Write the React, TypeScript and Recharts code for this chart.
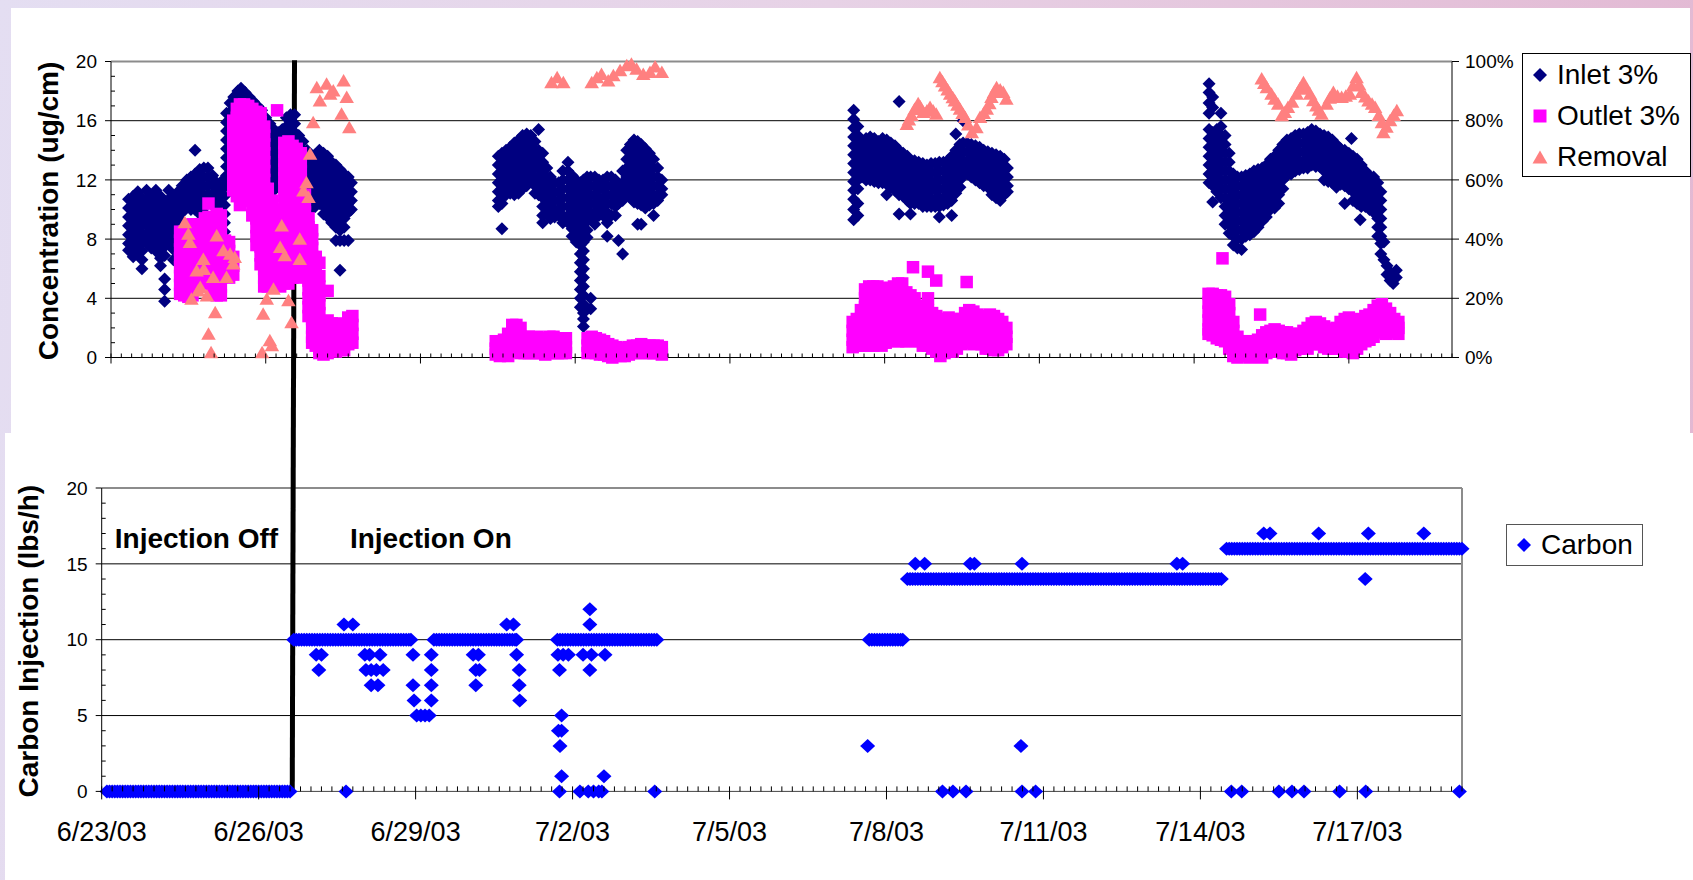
import React from 'react';
import { ScatterChart, Scatter, XAxis, YAxis, CartesianGrid, ReferenceLine, ReferenceDot, Legend } from 'recharts';

const FONT = '"Liberation Sans", Arial, Helvetica, sans-serif';
const INLET = '#000080';
const OUTLET = '#FF00FF';
const REMOVAL = '#FF8080';
const CARBON = '#0000FF';

// x = days after 6/23/03 00:00
const dateLabels = ['6/23/03', '6/26/03', '6/29/03', '7/2/03', '7/5/03', '7/8/03', '7/11/03', '7/14/03', '7/17/03'];
const labelDays = [0, 3, 6, 9, 12, 15, 18, 21, 24];
const concLabels = [0, 4, 8, 12, 16, 20];
const pctLabels = [0, 20, 40, 60, 80, 100];
const carbonLabels = [0, 5, 10, 15, 20];
const concGrid = [4, 8, 12, 16];
const carbonGrid = [5, 10, 15];
const minorDays = Array.from({ length: 131 }, (_, i) => i / 5);
const unitTicks = Array.from({ length: 21 }, (_, i) => i);

// Inlet 3% (ug/cm): [day, readings...]
const inlet1 = [
  [0.34, 10.7, 10.1, 9.5, 8.9, 8.3, 7.7, 7.25],
  [0.43, 10.9, 10.3, 9.7, 9.1, 8.5, 7.9, 7.3, 6.8],
  [0.52, 11.2, 10.6, 10.0, 9.4, 8.8, 8.2, 7.6, 7.0],
  [0.6, 10.8, 10.2, 9.6, 9.0, 8.4, 7.8, 7.2, 6.6, 6.0],
  [0.69, 11.3, 10.7, 10.1, 9.5, 8.9, 8.3, 7.7],
  [0.78, 10.9, 10.3, 9.7, 9.1, 8.5, 7.9, 7.4],
  [0.87, 11.3, 10.7, 10.1, 9.5, 8.9, 8.3, 7.7, 7.2],
  [0.96, 10.9, 10.3, 9.7, 9.1, 8.5, 7.9, 7.3, 6.7, 6.2],
  [1.04, 10.5, 9.9, 9.3, 8.7, 8.1, 7.5, 6.9, 5.3, 4.6, 3.8],
  [1.12, 11.3, 10.7, 10.1, 9.5, 8.9, 8.3, 7.7],
  [1.21, 10.9, 10.3, 9.7, 9.1, 8.5, 7.9, 7.3, 6.6],
  [1.3, 11.2, 10.6, 10.0, 9.4, 8.8],
  [1.38, 11.6, 11.0, 10.4, 9.8, 9.2],
  [1.47, 12.0, 11.4, 10.8, 10.2],
  [1.55, 12.2, 11.6, 11.0, 10.4, 10.0],
  [1.63, 14.0, 12.4, 11.8, 11.2, 10.6, 10.0],
  [1.72, 12.7, 12.1, 11.5, 10.9, 10.3, 9.7],
  [1.8, 12.8, 12.2, 11.6, 11.0, 10.4, 9.8],
  [1.88, 12.8, 12.2, 11.6, 11.0, 10.4],
  [1.97, 12.3, 11.7, 11.1, 10.5],
  [2.05, 11.8, 11.2, 10.6, 10.0, 9.4],
  [2.12, 11.3, 10.7, 10.1, 9.5, 8.9, 8.3],
  [2.2, 12.1, 11.5, 10.9, 10.3, 9.7, 9.1, 8.5, 8.1],
  [2.24, 16.5, 15.9, 15.3, 14.7, 14.1, 13.5, 12.9, 12.3, 11.7],
  [2.31, 17.2, 16.6, 16.0, 15.4, 14.8, 14.2, 13.6, 13.0, 12.4],
  [2.38, 17.6, 17.0, 16.4],
  [2.46, 18.0, 17.4],
  [2.52, 18.2, 17.6],
  [2.6, 17.9, 17.3],
  [2.68, 17.6, 17.0],
  [2.76, 17.3, 16.7],
  [2.84, 17.0, 16.4],
  [2.92, 16.7, 16.1, 15.5],
  [3.0, 16.2, 15.6, 15.0, 14.4, 13.8, 13.2, 12.6, 12.0, 11.4],
  [3.08, 15.8, 15.2, 14.6, 14.0, 13.4, 12.8, 12.2, 11.6],
  [3.16, 15.4, 14.8, 14.2, 13.6, 13.0, 12.4, 11.8, 11.3],
  [3.24, 15.2, 14.6, 14.0, 13.4, 12.8, 12.2, 11.6],
  [3.32, 15.4, 14.8, 14.2, 13.6],
  [3.4, 16.2, 15.6, 15.0, 14.4],
  [3.48, 16.4, 15.8, 15.2],
  [3.56, 16.4, 15.8, 15.2, 14.6],
  [3.64, 15.0, 14.4, 13.8, 13.2, 12.6, 12.0, 11.4, 10.8, 10.2],
  [3.72, 14.6, 14.0, 13.4, 12.8, 12.2, 11.6, 11.0, 10.4, 10.0],
  [3.8, 14.0, 13.4, 12.8, 12.2, 11.6, 11.0, 10.4, 10.0],
  [3.88, 13.6, 13.0, 12.4, 11.8, 11.2, 10.6, 10.0],
  [3.96, 13.7, 13.1, 12.5, 11.9, 11.3, 10.7, 10.2],
  [4.04, 14.0, 13.4, 12.8, 12.2, 11.6, 11.0, 10.4],
  [4.12, 13.8, 13.2, 12.6, 12.0, 11.4, 10.8, 10.2, 9.7],
  [4.2, 13.6, 13.0, 12.4, 11.8, 11.2, 10.6, 10.0, 9.5],
  [4.28, 13.2, 12.6, 12.0, 11.4, 10.8, 10.2, 9.6, 9.1],
  [4.36, 13.0, 12.4, 11.8, 11.2, 10.6, 10.0, 9.4, 8.8, 7.9],
  [4.44, 12.7, 12.1, 11.5, 10.9, 10.3, 9.7, 9.1, 8.6, 7.9, 5.9],
  [4.52, 12.4, 11.8, 11.2, 10.6, 10.0, 9.4, 8.8, 7.9],
  [4.6, 12.2, 11.6, 11.0, 10.4, 9.8, 7.9],
  [4.66, 11.8, 11.2, 10.6, 10.0],
];
const inlet2 = [
  [7.51, 13.6, 13.0, 12.4, 11.8, 11.2, 10.6, 10.2],
  [7.58, 13.8, 13.2, 12.6, 12.0, 11.4, 10.8, 10.4, 8.7],
  [7.66, 14.0, 13.4, 12.8, 12.2, 11.6, 11.0],
  [7.74, 14.2, 13.6, 13.0, 12.4, 11.8, 11.1],
  [7.82, 14.5, 13.9, 13.3, 12.7, 12.1, 11.5, 11.0],
  [7.9, 14.7, 14.1, 13.5, 12.9, 12.3, 11.7, 11.1],
  [7.98, 15.0, 14.4, 13.8, 13.2, 12.6, 12.0, 11.4],
  [8.06, 15.1, 14.5, 13.9, 13.3, 12.7, 12.1, 11.6],
  [8.14, 15.0, 14.4, 13.8, 13.2, 12.6, 12.0],
  [8.22, 14.6, 14.0, 13.4, 12.8, 12.2, 11.6, 11.1],
  [8.29, 15.4, 14.0, 13.4, 12.8, 12.2, 11.6, 11.0],
  [8.37, 13.8, 13.2, 12.6, 12.0, 11.4, 10.8, 10.2, 9.6, 9.1],
  [8.45, 12.8, 12.2, 11.6, 11.0, 10.4, 9.8],
  [8.52, 12.2, 11.6, 11.0, 10.4, 9.8, 9.4],
  [8.6, 11.8, 11.2, 10.6, 10.0, 9.5],
  [8.68, 11.8, 11.2, 10.6, 10.0, 9.6],
  [8.76, 12.6, 12.0, 11.4, 10.8, 10.2, 9.6, 9.1],
  [8.86, 13.2, 12.6, 12.0, 11.4, 10.8, 10.2, 9.6, 9.1],
  [8.94, 12.3, 11.7, 11.1, 10.5, 9.9, 9.3, 8.7, 8.2],
  [9.02, 12.0, 11.4, 10.8, 10.2, 9.6, 9.0, 8.4, 7.8],
  [9.1, 11.8, 11.2, 10.6, 10.0, 9.4, 8.8, 8.2, 7.6, 7.0, 6.4, 5.8, 5.2, 4.6, 4.0, 3.4],
  [9.16, 12.0, 11.4, 10.8, 10.2, 9.6, 9.0, 8.4, 7.8, 7.2, 6.6, 6.0, 5.4, 4.8, 4.2, 3.6, 3.0, 2.6, 2.1],
  [9.23, 12.2, 11.6, 11.0, 10.4, 9.8, 9.2, 8.6, 8.1],
  [9.3, 12.2, 11.6, 11.0, 10.4, 9.8, 9.4, 4.0, 3.3],
  [9.38, 12.2, 11.6, 11.0, 10.4, 9.8, 9.4, 9.0],
  [9.46, 12.0, 11.4, 10.8, 10.2, 9.6],
  [9.54, 12.0, 11.4, 10.8, 10.2, 9.6],
  [9.62, 12.2, 11.6, 11.0, 10.4, 9.8, 9.1, 8.2],
  [9.7, 12.2, 11.6, 11.0, 10.4, 9.6],
  [9.78, 12.0, 11.4, 10.8, 10.2, 9.6],
  [9.84, 11.6, 11.0, 10.4, 7.9],
  [9.92, 12.6, 11.8, 11.2, 10.6, 7.0],
  [10.0, 14.0, 13.4, 12.8, 12.2, 11.6, 11.0],
  [10.07, 14.4, 13.8, 13.2, 12.6, 12.0, 11.4, 10.8],
  [10.14, 14.7, 14.1, 13.5, 12.9, 12.3, 11.7, 11.1, 10.5],
  [10.21, 14.6, 14.0, 13.4, 12.8, 12.2, 11.6, 11.0, 10.4, 9.0],
  [10.28, 14.4, 13.8, 13.2, 12.6, 12.0, 11.4, 10.8, 10.3, 9.0],
  [10.36, 14.1, 13.5, 12.9, 12.3, 11.7, 11.1, 10.5, 10.1],
  [10.44, 13.8, 13.2, 12.6, 12.0, 11.4, 10.8, 10.3],
  [10.52, 13.4, 12.8, 12.2, 11.6, 11.0, 10.4, 9.6],
  [10.6, 12.8, 12.2, 11.6, 11.0, 10.6],
  [10.68, 12.0, 11.4, 11.0],
];
const inlet3 = [
  [14.4, 16.7, 16.1, 15.5, 14.9, 14.3, 13.7, 13.1, 12.5, 11.9, 11.3, 10.7, 10.0, 9.3],
  [14.48, 15.6, 15.0, 14.4, 13.8, 13.2, 12.6, 12.0, 11.4, 10.4, 9.6],
  [14.56, 14.6, 14.0, 13.4, 12.8, 12.2],
  [14.64, 14.8, 14.2, 13.6, 13.0, 12.4, 12.0],
  [14.72, 14.9, 14.3, 13.7, 13.1, 12.5, 12.0],
  [14.8, 14.8, 14.2, 13.6, 13.0, 12.4, 11.9],
  [14.88, 14.6, 14.0, 13.4, 12.8, 12.2, 11.8],
  [14.96, 14.8, 14.2, 13.6, 13.0, 12.4, 11.8],
  [15.04, 14.7, 14.1, 13.5, 12.9, 12.3, 11.7, 11.0],
  [15.12, 14.5, 13.9, 13.3, 12.7, 12.1, 11.5],
  [15.2, 14.3, 13.7, 13.1, 12.5, 11.9, 11.3],
  [15.28, 17.3, 14.0, 13.4, 12.8, 12.2, 11.6, 11.0, 9.7],
  [15.36, 13.8, 13.2, 12.6, 12.0, 11.4, 10.9],
  [15.44, 13.6, 13.0, 12.4, 11.8, 11.2, 10.6],
  [15.5, 13.3, 12.7, 12.1, 11.5, 10.9, 10.4, 9.7],
  [15.58, 13.3, 12.7, 12.1, 11.5, 10.9, 10.4],
  [15.66, 13.2, 12.6, 12.0, 11.4, 10.8, 10.4],
  [15.74, 13.1, 12.5, 11.9, 11.3, 10.7, 10.2],
  [15.82, 13.0, 12.4, 11.8, 11.2, 10.6, 10.2],
  [15.9, 13.1, 12.5, 11.9, 11.3, 10.7, 10.2],
  [15.98, 13.1, 12.5, 11.9, 11.3, 10.7, 10.2],
  [16.06, 13.2, 12.6, 12.0, 11.4, 10.8, 10.2, 9.5],
  [16.14, 13.2, 12.6, 12.0, 11.4, 10.8, 10.3],
  [16.22, 13.3, 12.7, 12.1, 11.5, 10.9, 10.4],
  [16.3, 13.6, 13.0, 12.4, 11.8, 11.2, 10.6, 9.6],
  [16.38, 15.1, 14.0, 13.4, 12.8, 12.2, 11.6, 11.1],
  [16.46, 14.4, 13.8, 13.2, 12.6, 12.0, 11.5],
  [16.52, 16.0, 14.5, 13.9, 13.3, 12.7, 12.3],
  [16.6, 14.5, 13.9, 13.3, 12.7, 12.4],
  [16.68, 14.4, 13.8, 13.2, 12.6, 12.2],
  [16.76, 14.3, 13.7, 13.1, 12.5, 12.0],
  [16.84, 14.2, 13.6, 13.0, 12.4, 11.8],
  [16.92, 14.0, 13.4, 12.8, 12.2, 11.6],
  [17.0, 13.9, 13.3, 12.7, 12.1, 11.5],
  [17.08, 13.8, 13.2, 12.6, 12.0, 11.4, 11.0],
  [17.16, 13.7, 13.1, 12.5, 11.9, 11.3, 10.8],
  [17.24, 13.6, 13.0, 12.4, 11.8, 11.2, 10.6],
  [17.32, 13.4, 12.8, 12.2, 11.6, 11.0],
  [17.38, 12.8, 12.2, 11.6, 11.2],
];
const inlet4 = [
  [21.29, 18.5, 17.9, 17.2, 16.5, 15.4, 14.8, 14.2, 13.6, 13.0, 12.4, 11.8],
  [21.36, 17.6, 16.9, 15.2, 14.6, 14.0, 13.4, 12.8, 12.2, 11.6, 10.5],
  [21.44, 15.4, 14.8, 14.2, 13.6, 13.0, 12.4, 11.8, 11.2],
  [21.52, 16.5, 15.6, 15.0, 14.4, 13.8, 13.2, 12.6, 12.0, 11.4, 10.8],
  [21.6, 15.0, 14.4, 13.8, 13.2, 12.6, 12.0, 11.4, 10.8, 10.2, 9.6, 9.0],
  [21.68, 13.8, 13.2, 12.6, 12.0, 11.4, 10.8, 10.2, 9.6, 9.0, 8.4],
  [21.76, 12.4, 11.8, 11.2, 10.6, 10.0, 9.4, 8.8, 8.2, 7.6],
  [21.84, 12.2, 11.6, 11.0, 10.4, 9.8, 9.2, 8.6, 8.0, 7.4],
  [21.92, 12.2, 11.6, 11.0, 10.4, 9.8, 9.2, 8.6, 8.0, 7.3],
  [22.0, 12.3, 11.7, 11.1, 10.5, 9.9, 9.3, 8.7, 8.2],
  [22.08, 12.4, 11.8, 11.2, 10.6, 10.0, 9.4, 8.8, 8.3],
  [22.16, 12.6, 12.0, 11.4, 10.8, 10.2, 9.6, 9.0, 8.5],
  [22.24, 12.7, 12.1, 11.5, 10.9, 10.3, 9.7, 9.1, 8.8],
  [22.32, 12.8, 12.2, 11.6, 11.0, 10.4, 9.8, 9.2],
  [22.4, 13.0, 12.4, 11.8, 11.2, 10.6, 10.0, 9.5],
  [22.48, 13.4, 12.8, 12.2, 11.6, 11.0, 10.4, 10.0],
  [22.56, 13.6, 13.0, 12.4, 11.8, 11.2, 10.6, 10.1],
  [22.64, 14.0, 13.4, 12.8, 12.2, 11.6, 11.0, 10.4],
  [22.72, 14.4, 13.8, 13.2, 12.6, 12.0, 11.4],
  [22.8, 14.7, 14.1, 13.5, 12.9, 12.3],
  [22.88, 14.8, 14.2, 13.6, 13.0, 12.4],
  [22.96, 15.0, 14.4, 13.8, 13.2, 12.6],
  [23.04, 15.1, 14.5, 13.9, 13.3, 12.7],
  [23.12, 15.1, 14.5, 13.9, 13.3, 12.8],
  [23.2, 15.2, 14.6, 14.0, 13.4, 12.8],
  [23.28, 15.4, 14.8, 14.2, 13.6, 13.0],
  [23.36, 15.3, 14.7, 14.1, 13.5, 12.9],
  [23.44, 15.1, 14.5, 13.9, 13.3, 12.9],
  [23.52, 15.0, 14.4, 13.8, 13.2, 12.6, 12.0],
  [23.6, 14.9, 14.3, 13.7, 13.1, 12.5, 11.9],
  [23.68, 14.7, 14.1, 13.5, 12.9, 12.3, 11.8],
  [23.76, 14.4, 13.8, 13.2, 12.6, 12.0, 11.5],
  [23.84, 14.1, 13.5, 12.9, 12.3, 11.7],
  [23.92, 14.0, 13.4, 12.8, 12.2, 11.6, 10.4],
  [24.0, 13.8, 13.2, 12.6, 12.0, 11.4],
  [24.05, 14.8],
  [24.08, 13.6, 13.0, 12.4, 11.8, 11.2, 10.6],
  [24.16, 13.4, 12.8, 12.2, 11.6, 11.0, 10.4],
  [24.22, 9.3],
  [24.24, 13.0, 12.4, 11.8, 11.2, 10.6, 10.2],
  [24.32, 12.6, 12.0, 11.4, 10.8, 10.2],
  [24.4, 12.3, 11.7, 11.1, 10.5, 10.0],
  [24.48, 12.2, 11.6, 11.0, 10.4, 9.8],
  [24.56, 11.8, 11.2, 10.6, 10.0, 9.4, 8.8, 8.2],
  [24.62, 11.2, 10.6, 10.0, 9.4, 8.8, 8.2, 7.7, 7.0],
  [24.68, 7.8, 6.6],
  [24.74, 6.2, 5.6],
  [24.8, 5.2, 5.8],
  [24.86, 5.0, 5.5],
  [24.92, 5.4, 5.9],
];

// Outlet 3% (ug/cm): [day, readings...]
const outlet1 = [
  [1.34, 8.5, 7.9, 7.3, 6.7, 6.1, 5.5, 4.9, 4.3],
  [1.42, 8.5, 7.9, 7.3, 6.7, 6.1, 5.5, 4.9, 4.2],
  [1.5, 8.7, 8.1, 7.5, 6.9, 6.3, 5.7, 5.1, 4.5, 4.1],
  [1.58, 9.0, 8.4, 7.8, 7.2, 6.6, 6.0, 5.4, 4.8, 4.2],
  [1.66, 9.0, 8.4, 7.8, 7.2, 6.6, 6.0, 5.4, 4.8],
  [1.74, 9.0, 8.4, 7.8, 7.2, 6.6, 6.0, 5.4, 5.0],
  [1.82, 9.4, 8.8, 8.2, 7.6, 7.0, 6.4, 5.8, 5.2],
  [1.89, 10.4, 9.5, 8.9, 8.3, 7.7, 7.1, 6.5, 5.9, 5.3],
  [1.97, 9.2, 8.6, 8.0, 7.4, 6.8, 6.2, 5.6, 5.0, 4.4],
  [2.05, 9.7, 9.1, 8.5, 7.9, 7.3, 6.7, 6.1, 5.5, 4.9, 4.2],
  [2.13, 9.6, 9.0, 8.4, 7.8, 7.2, 6.6, 6.0, 5.4, 4.8, 4.2],
  [2.21, 7.9, 7.3, 6.7, 6.1, 5.5],
  [2.29, 7.8, 7.2, 6.6, 6.0, 5.4],
  [2.37, 16.0, 15.4, 14.8, 14.2, 13.6, 13.0, 12.4, 11.8, 11.3, 6.8, 6.2, 5.6],
  [2.44, 16.8, 16.2, 15.6, 15.0, 14.4, 13.8, 13.2, 12.6, 12.0, 11.4, 10.9],
  [2.5, 17.1, 16.5, 15.9, 15.3, 14.7, 14.1, 13.5, 12.9, 12.3, 11.7, 11.1, 10.3],
  [2.58, 17.1, 16.5, 15.9, 15.3, 14.7, 14.1, 13.5, 12.9, 12.3, 11.7, 11.1],
  [2.66, 17.0, 16.4, 15.8, 15.2, 14.6, 14.0, 13.4, 12.8, 12.2, 11.6, 11.0, 10.6],
  [2.74, 16.8, 16.2, 15.6, 15.0, 14.4, 13.8, 13.2, 12.6, 12.0, 11.4, 10.8, 10.2, 9.6],
  [2.82, 16.6, 16.0, 15.4, 14.8, 14.2, 13.6, 13.0, 12.4, 11.8, 11.2, 10.6, 10.0, 9.4, 8.8, 8.2, 7.6],
  [2.9, 16.5, 15.9, 15.3, 14.7, 14.1, 13.5, 12.9, 12.3, 11.7, 11.1, 10.5, 9.9, 9.3, 8.7, 8.1, 7.5, 6.9, 6.3],
  [2.97, 15.6, 15.0, 14.4, 13.8, 13.2, 12.6, 12.0, 11.4, 10.8, 10.2, 9.6, 9.0, 8.4, 7.8, 7.2, 6.6, 6.0, 5.4, 4.8],
  [3.04, 11.4, 10.8, 10.2, 9.6, 9.0, 8.4, 7.8, 7.2, 6.6, 6.0, 5.4, 4.8],
  [3.12, 10.6, 10.0, 9.4, 8.8, 8.2, 7.6, 7.0, 6.4, 5.8, 5.2],
  [3.2, 10.0, 9.4, 8.8, 8.2, 7.6, 7.0, 6.4, 5.8, 5.2],
  [3.22, 16.7],
  [3.28, 9.0, 8.4, 7.8, 7.2, 6.6, 6.0, 5.4, 4.8],
  [3.36, 14.5, 13.9, 13.3, 12.7, 12.1, 11.5, 10.9, 10.3, 9.7, 9.1, 8.5, 7.9, 7.3, 6.7, 6.1, 5.5, 5.0],
  [3.44, 14.6, 14.0, 13.4, 12.8, 12.2, 11.6, 11.0, 10.4, 9.8, 9.2, 8.6, 8.0, 7.4, 6.8, 6.2, 5.6, 5.0],
  [3.52, 14.3, 13.7, 13.1, 12.5, 11.9, 11.3, 10.7, 10.1, 9.5, 8.9, 8.3, 7.7, 7.1, 6.5, 5.9, 5.4],
  [3.6, 14.1, 13.5, 12.9, 12.3, 11.7, 11.1, 10.5, 9.9, 9.3, 8.7, 8.1, 7.5, 6.9, 6.3],
  [3.68, 13.8, 13.2, 12.6, 12.0, 11.4, 10.8, 10.2, 9.6, 9.0, 8.4, 7.8, 7.2, 6.6, 6.0, 5.4],
  [3.76, 11.0, 10.4, 9.8, 9.2, 8.6, 8.0, 7.4, 6.8, 6.2, 5.6],
  [3.83, 9.4, 8.8, 8.2, 7.6, 7.0, 6.4, 5.8, 5.2, 4.6, 4.0, 3.4, 2.8],
  [3.9, 8.6, 8.0, 7.4, 6.8, 6.2, 5.6, 5.0, 4.4, 3.8, 3.2, 2.6, 2.0, 1.4, 1.0],
  [3.97, 6.8, 6.2, 5.6, 5.0, 4.4, 3.8, 3.2, 2.6, 2.0, 1.4, 0.8],
  [4.04, 6.4, 5.5, 4.8, 4.2, 3.6, 3.0, 2.4, 1.8, 1.2, 0.6, 0.3],
  [4.12, 2.4, 1.8, 1.2, 0.6, 0.2],
  [4.2, 4.5, 2.5, 1.9, 1.3, 0.7, 0.3],
  [4.28, 2.3, 1.7, 1.1, 0.5],
  [4.36, 2.2, 1.6, 1.0, 0.4],
  [4.44, 2.3, 1.7, 1.1, 0.5],
  [4.52, 2.1, 1.5, 0.9, 0.5],
  [4.6, 2.7, 2.1, 1.5, 0.9],
  [4.68, 2.8, 2.2, 1.6, 1.0],
];
const outlet2 = [
  [7.46, 1.1, 0.6, 0.2], [7.54, 1.0, 0.5, 0.1], [7.62, 1.2, 0.7, 0.2], [7.7, 1.6, 1.0, 0.5, 0.1],
  [7.78, 2.2, 1.6, 1.0, 0.4], [7.86, 2.2, 1.6, 1.0, 0.4], [7.94, 2.0, 1.4, 0.8, 0.3], [8.02, 1.4, 0.8, 0.3],
  [8.1, 1.4, 0.8, 0.3], [8.18, 1.3, 0.8, 0.3], [8.26, 1.4, 0.9, 0.3], [8.34, 1.3, 0.8, 0.3],
  [8.42, 1.2, 0.7, 0.2], [8.5, 1.4, 0.8, 0.3], [8.58, 1.4, 0.8, 0.3], [8.66, 1.3, 0.8, 0.3],
  [8.74, 1.2, 0.7, 0.3], [8.82, 1.3, 0.7, 0.3],
  [9.24, 1.3, 0.8, 0.3], [9.32, 1.4, 0.9, 0.4], [9.4, 1.3, 0.8, 0.3], [9.48, 1.2, 0.7, 0.2],
  [9.56, 1.1, 0.6, 0.2], [9.64, 0.9, 0.4, 0.1], [9.72, 0.8, 0.3, 0.0], [9.8, 0.7, 0.2],
  [9.88, 0.6, 0.1], [9.96, 0.6, 0.1], [10.04, 0.7, 0.2], [10.12, 0.8, 0.3], [10.2, 0.8, 0.3],
  [10.28, 0.9, 0.4], [10.36, 0.8, 0.3], [10.44, 0.8, 0.3], [10.52, 0.8, 0.3], [10.6, 0.8, 0.3],
  [10.68, 0.7, 0.2],
];
const outlet3 = [
  [14.38, 2.4, 1.8, 1.2, 0.7],
  [14.46, 2.6, 2.0, 1.4, 0.8],
  [14.54, 3.2, 2.6, 2.0, 1.4, 0.8],
  [14.62, 4.6, 4.0, 3.4, 2.8, 2.2, 1.6, 1.0],
  [14.7, 4.8, 4.2, 3.6, 3.0, 2.4, 1.8, 1.2, 0.8],
  [14.78, 4.8, 4.2, 3.6, 3.0, 2.4, 1.8, 1.2, 0.8],
  [14.86, 4.8, 4.2, 3.6, 3.0, 2.4, 1.8, 1.2],
  [14.94, 4.7, 4.1, 3.5, 2.9, 2.3, 1.7, 1.1, 0.8],
  [15.02, 4.6, 4.0, 3.4, 2.8, 2.2, 1.6, 1.0],
  [15.1, 4.7, 4.1, 3.5, 2.9, 2.3, 1.7, 1.1],
  [15.18, 4.8, 4.2, 3.6, 3.0, 2.4, 1.8, 1.2],
  [15.26, 5.0, 4.4, 3.8, 3.2, 2.6, 2.0, 1.4, 1.1],
  [15.34, 5.0, 4.4, 3.8, 3.2, 2.6, 2.0, 1.4, 1.1],
  [15.42, 4.4, 3.8, 3.2, 2.6, 2.0, 1.4, 1.1],
  [15.5, 4.2, 3.6, 3.0, 2.4, 1.8, 1.2],
  [15.55, 6.1],
  [15.58, 4.0, 3.4, 2.8, 2.2, 1.6, 1.1],
  [15.66, 3.5, 2.9, 2.3, 1.7, 1.1],
  [15.74, 3.2, 2.6, 2.0, 1.4, 0.8],
  [15.84, 5.8, 4.0, 3.2, 2.6, 2.0, 1.4, 0.8],
  [15.92, 3.0, 2.4, 1.8, 1.2, 0.6],
  [16.0, 5.2, 2.8, 2.2, 1.6, 1.0, 0.4],
  [16.08, 2.4, 1.8, 1.2, 0.6, 0.1],
  [16.16, 2.6, 2.0, 1.4, 0.8, 0.3],
  [16.24, 2.7, 2.1, 1.5, 0.9, 0.4],
  [16.32, 2.6, 2.0, 1.4, 0.8, 0.4],
  [16.4, 2.4, 1.8, 1.2, 0.6],
  [16.48, 2.6, 2.0, 1.4, 0.9],
  [16.56, 3.0, 2.4, 1.8, 1.2],
  [16.59, 5.1],
  [16.64, 3.2, 2.6, 2.0, 1.4, 1.0],
  [16.72, 3.1, 2.5, 1.9, 1.3, 0.9],
  [16.8, 2.9, 2.3, 1.7, 1.1],
  [16.88, 2.7, 2.1, 1.5, 0.9],
  [16.96, 2.8, 2.2, 1.6, 1.0, 0.6],
  [17.04, 2.9, 2.3, 1.7, 1.1, 0.6],
  [17.12, 2.8, 2.2, 1.6, 1.0, 0.5],
  [17.2, 2.6, 2.0, 1.4, 0.8, 0.5],
  [17.28, 2.4, 1.8, 1.2, 0.7],
  [17.36, 2.0, 1.4, 0.9],
];
const outlet4 = [
  [21.28, 4.3, 3.7, 3.1, 2.5, 1.9, 1.6], [21.36, 4.3, 3.7, 3.1, 2.5, 1.9, 1.5],
  [21.44, 4.2, 3.6, 3.0, 2.4, 1.8, 1.3], [21.52, 4.2, 3.6, 3.0, 2.4, 1.8, 1.2], [21.55, 6.7],
  [21.6, 4.1, 3.5, 2.9, 2.3, 1.7, 1.1], [21.68, 3.6, 3.0, 2.4, 1.8, 1.2, 0.6],
  [21.76, 2.4, 1.8, 1.2, 0.6, 0.1], [21.84, 1.4, 0.8, 0.3, 0.0], [21.92, 1.1, 0.6, 0.1],
  [22.0, 1.1, 0.6, 0.1], [22.08, 1.0, 0.5, 0.0], [22.16, 1.1, 0.6, 0.1], [22.24, 1.2, 0.7, 0.2],
  [22.28, 2.9], [22.32, 1.5, 1.0, 0.5, 0.0], [22.4, 1.7, 1.2, 0.7, 0.3], [22.48, 1.8, 1.3, 0.8, 0.4],
  [22.56, 1.9, 1.4, 0.9, 0.4], [22.64, 1.8, 1.3, 0.8, 0.4], [22.72, 1.7, 1.2, 0.7, 0.3],
  [22.8, 1.7, 1.2, 0.7, 0.3], [22.88, 1.6, 1.1, 0.6, 0.2], [22.96, 1.5, 1.0, 0.5],
  [23.04, 1.6, 1.1, 0.6], [23.12, 1.8, 1.3, 0.8], [23.2, 2.0, 1.5, 1.0, 0.6], [23.28, 2.3, 1.8, 1.3, 0.9],
  [23.36, 2.4, 1.9, 1.4, 1.0], [23.44, 2.3, 1.8, 1.3, 0.9], [23.52, 2.1, 1.6, 1.1, 0.7],
  [23.6, 1.9, 1.4, 0.9, 0.6], [23.68, 1.8, 1.3, 0.8, 0.6], [23.76, 2.0, 1.5, 1.0, 0.6],
  [23.84, 2.4, 1.9, 1.4, 0.9], [23.92, 2.6, 2.0, 1.4, 0.8, 0.4], [24.0, 2.7, 2.1, 1.5, 0.9, 0.4],
  [24.08, 2.5, 1.9, 1.3, 0.7, 0.3], [24.16, 2.3, 1.7, 1.1, 0.6], [24.24, 2.6, 2.0, 1.4, 0.9],
  [24.32, 2.8, 2.2, 1.6, 1.1], [24.4, 2.9, 2.3, 1.7, 1.2], [24.48, 3.2, 2.6, 2.0, 1.4],
  [24.56, 3.5, 2.9, 2.3, 1.7], [24.64, 3.6, 3.0, 2.4, 1.8], [24.72, 3.3, 2.7, 2.1, 1.6],
  [24.8, 3.0, 2.4, 1.9], [24.88, 2.6, 2.1, 1.7], [24.96, 2.4, 2.0, 1.6],
];

// Removal (%): [day, percent]
const removal1 = [
  [1.43, 45.8], [1.5, 41.9], [1.53, 39.1], [1.56, 19.9], [1.66, 29.5], [1.69, 22.7], [1.73, 23.9],
  [1.79, 33.4], [1.8, 30], [1.86, 21], [1.89, 8.1], [1.94, 1.9], [1.98, 27.3], [2.02, 15.4],
  [2.05, 41.3], [2.18, 36.3], [2.24, 27.3], [2.31, 35.1], [2.37, 31.8], [2.4, 34],
  [2.93, 1.9], [2.95, 14.9], [3.02, 19.9], [3.08, 5.9], [3.12, 4.2], [3.15, 23.3], [3.28, 37.4],
  [3.31, 44.7], [3.37, 34.6], [3.44, 19.4], [3.5, 12], [3.66, 40.2], [3.66, 33.4], [3.73, 56.5],
  [3.79, 59.3], [3.83, 54.3], [3.86, 68.9], [3.92, 79.6], [3.99, 91.4], [4.05, 86.9], [4.18, 92.6],
  [4.25, 89.2], [4.31, 90.3], [4.47, 82.4], [4.51, 93.7], [4.57, 88.1], [4.62, 77.9],
];
const removal2 = [
  [8.54, 93.1], [8.65, 94.8], [8.77, 93.1], [9.32, 93.1], [9.42, 94.8], [9.51, 95.9], [9.64, 93.7],
  [9.74, 95.4], [9.87, 97.1], [10.0, 98.8], [10.09, 99.3], [10.19, 97.6], [10.32, 95.9],
  [10.45, 96.5], [10.55, 98.4], [10.68, 96.5],
];
const removal3 = [
  [15.43, 79], [15.47, 80.5], [15.52, 82], [15.58, 84], [15.65, 86], [15.69, 84.9], [15.75, 83],
  [15.82, 83.5], [15.88, 84.7], [15.94, 83.5], [16.0, 82.4], [16.07, 94.8], [16.12, 93.4],
  [16.17, 92], [16.22, 90.6], [16.27, 89.2], [16.32, 88], [16.36, 86.9], [16.41, 85.5],
  [16.46, 84.1], [16.51, 82.7], [16.56, 81.3], [16.62, 78.8], [16.69, 76.2], [16.78, 77.9],
  [16.85, 81.3], [16.92, 82.7], [16.98, 84.1], [17.03, 86], [17.07, 88.1], [17.12, 89.8],
  [17.17, 91.4], [17.24, 90.6], [17.3, 89.8], [17.36, 87.5],
];
const removal4 = [
  [22.31, 94.3], [22.36, 92.8], [22.41, 91.4], [22.5, 89.2], [22.56, 87.5], [22.63, 85.8],
  [22.7, 81.9], [22.76, 83], [22.82, 84.7], [22.9, 86.5], [22.99, 89.2], [23.05, 91],
  [23.12, 93.1], [23.18, 91], [23.25, 89.2], [23.31, 87], [23.37, 85.2], [23.42, 83.8],
  [23.47, 82.4], [23.57, 85.8], [23.63, 87.8], [23.7, 89.8], [23.78, 88.5], [23.86, 88.1],
  [23.94, 88.5], [24.02, 89.2], [24.08, 92], [24.15, 94.8], [24.2, 92.3], [24.25, 89.8],
  [24.32, 88.3], [24.38, 86.9], [24.45, 85.8], [24.51, 84.7], [24.58, 82], [24.64, 79.6],
  [24.67, 76.2], [24.73, 78], [24.8, 80.2], [24.87, 82], [24.93, 83.6],
];

// Carbon injection (lbs/h): reading times at each steady rate, plus single readings
const carbonAt0 = [
  0.1, 0.15, 0.2, 0.25, 0.3, 0.35, 0.4, 0.45, 0.5, 0.55, 0.6, 0.65, 0.7, 0.75, 0.8, 0.85, 0.9, 0.95,
  1, 1.05, 1.1, 1.15, 1.2, 1.25, 1.3, 1.35, 1.4, 1.45, 1.5, 1.55, 1.6, 1.65, 1.7, 1.75, 1.8, 1.85, 1.9, 1.95,
  2, 2.05, 2.1, 2.15, 2.2, 2.25, 2.3, 2.35, 2.4, 2.45, 2.5, 2.55, 2.6, 2.65, 2.7, 2.75, 2.8, 2.85, 2.9, 2.95,
  3, 3.05, 3.1, 3.15, 3.2, 3.25, 3.3, 3.35, 3.4, 3.45, 3.5, 3.55, 3.6,
];
const carbonAt10 = [
  3.67, 3.72, 3.77, 3.82, 3.87, 3.92, 3.97, 4.02, 4.07, 4.12, 4.17, 4.22, 4.27, 4.32, 4.37, 4.42,
  4.47, 4.52, 4.57, 4.62, 4.67, 4.72, 4.77, 4.82, 4.87, 4.92, 4.97, 5.02, 5.07, 5.12, 5.17, 5.22,
  5.27, 5.32, 5.37, 5.42, 5.47, 5.52, 5.57, 5.62, 5.67, 5.72, 5.77, 5.82, 5.87, 5.91,
  6.35, 6.4, 6.45, 6.5, 6.55, 6.6, 6.65, 6.7, 6.75, 6.8, 6.85, 6.9, 6.95, 7, 7.05, 7.1, 7.15, 7.2,
  7.25, 7.3, 7.35, 7.4, 7.45, 7.5, 7.55, 7.6, 7.65, 7.7, 7.75, 7.8, 7.85, 7.9, 7.93,
  8.71, 8.76, 8.81, 8.86, 8.91, 8.96, 9.01, 9.06, 9.11, 9.16, 9.21, 9.26, 9.31, 9.36, 9.41, 9.46,
  9.51, 9.56, 9.61, 9.66, 9.71, 9.76, 9.81, 9.86, 9.91, 9.96, 10.01, 10.06, 10.11, 10.16, 10.21,
  10.26, 10.31, 10.36, 10.41, 10.46, 10.51, 10.56, 10.61,
  14.67, 14.72, 14.77, 14.82, 14.87, 14.92, 14.97, 15.02, 15.07, 15.12, 15.17, 15.22, 15.27, 15.31,
];
const carbonAt14 = [
  15.4, 15.45, 15.5, 15.55, 15.6, 15.65, 15.7, 15.75, 15.8, 15.85, 15.9, 15.95,
  16, 16.05, 16.1, 16.15, 16.2, 16.25, 16.3, 16.35, 16.4, 16.45, 16.5, 16.55, 16.6, 16.65, 16.7, 16.75, 16.8, 16.85, 16.9, 16.95,
  17, 17.05, 17.1, 17.15, 17.2, 17.25, 17.3, 17.35, 17.4, 17.45, 17.5, 17.55, 17.6, 17.65, 17.7, 17.75, 17.8, 17.85, 17.9, 17.95,
  18, 18.05, 18.1, 18.15, 18.2, 18.25, 18.3, 18.35, 18.4, 18.45, 18.5, 18.55, 18.6, 18.65, 18.7, 18.75, 18.8, 18.85, 18.9, 18.95,
  19, 19.05, 19.1, 19.15, 19.2, 19.25, 19.3, 19.35, 19.4, 19.45, 19.5, 19.55, 19.6, 19.65, 19.7, 19.75, 19.8, 19.85, 19.9, 19.95,
  20, 20.05, 20.1, 20.15, 20.2, 20.25, 20.3, 20.35, 20.4, 20.45, 20.5, 20.55, 20.6, 20.65, 20.7, 20.75, 20.8, 20.85, 20.9, 20.95,
  21, 21.05, 21.1, 21.15, 21.2, 21.25, 21.3, 21.35, 21.4,
];
const carbonAt16 = [
  21.5, 21.55, 21.6, 21.65, 21.7, 21.75, 21.8, 21.85, 21.9, 21.95,
  22, 22.05, 22.1, 22.15, 22.2, 22.25, 22.3, 22.35, 22.4, 22.45, 22.5, 22.55, 22.6, 22.65, 22.7, 22.75, 22.8, 22.85, 22.9, 22.95,
  23, 23.05, 23.1, 23.15, 23.2, 23.25, 23.3, 23.35, 23.4, 23.45, 23.5, 23.55, 23.6, 23.65, 23.7, 23.75, 23.8, 23.85, 23.9, 23.95,
  24, 24.05, 24.1, 24.15, 24.2, 24.25, 24.3, 24.35, 24.4, 24.45, 24.5, 24.55, 24.6, 24.65, 24.7, 24.75, 24.8, 24.85, 24.9, 24.95,
  25, 25.05, 25.1, 25.15, 25.2, 25.25, 25.3, 25.35, 25.4, 25.45, 25.5, 25.55, 25.6, 25.65, 25.7, 25.75, 25.8, 25.85, 25.9, 25.95,
  26,
];
const carbonOther = [
  [4.1, 9], [4.2, 9], [4.15, 8], [4.63, 11], [4.8, 11], [4.67, 0],
  [5.03, 9], [5.12, 9], [5.32, 9], [5.05, 8], [5.15, 8], [5.25, 8], [5.38, 8], [5.15, 7], [5.28, 7],
  [5.95, 9], [5.95, 7], [5.97, 6], [6.02, 5], [6.1, 5], [6.18, 5], [6.26, 5],
  [6.3, 9], [6.3, 8], [6.3, 7], [6.3, 6],
  [7.1, 9], [7.2, 9], [7.15, 8], [7.22, 8], [7.15, 7],
  [7.74, 11], [7.87, 11], [7.93, 9], [7.98, 8], [7.98, 7], [7.99, 6],
  [8.72, 9], [8.82, 9], [8.92, 9], [8.75, 8], [8.79, 5], [8.73, 4], [8.79, 4], [8.76, 3], [8.79, 1], [8.75, 0],
  [9.14, 0], [9.3, 0], [9.4, 0], [9.5, 0], [9.56, 0], [9.6, 1],
  [9.33, 12], [9.33, 11], [9.2, 9], [9.36, 9], [9.62, 9], [9.33, 8], [10.57, 0],
  [14.64, 3], [15.55, 15], [15.73, 15], [16.6, 15], [16.68, 15], [17.59, 15], [17.57, 3],
  [20.55, 15], [20.66, 15], [22.21, 17], [22.33, 17], [23.26, 17], [24.21, 17], [25.27, 17], [24.15, 14],
  [16.07, 0], [16.27, 0], [16.52, 0], [17.59, 0], [17.85, 0], [21.59, 0], [21.79, 0], [22.5, 0],
  [22.75, 0], [22.98, 0], [23.66, 0], [24.16, 0], [25.95, 0],
];

const fromColumns = (cols: number[][]) => cols.flatMap(([x, ...ys]) => ys.map((y) => ({ x, y })));
const fromPairs = (pairs: number[][]) => pairs.map(([x, y]) => ({ x, y }));
const atLevel = (days: number[], y: number) => days.map((x) => ({ x, y }));

const inletData = fromColumns([...inlet1, ...inlet2, ...inlet3, ...inlet4]);
const outletData = fromColumns([...outlet1, ...outlet2, ...outlet3, ...outlet4]);
const removalData = fromPairs([...removal1, ...removal2, ...removal3, ...removal4]);
const carbonData = [
  ...atLevel(carbonAt0, 0),
  ...atLevel(carbonAt10, 10),
  ...atLevel(carbonAt14, 14),
  ...atLevel(carbonAt16, 16),
  ...fromPairs(carbonOther),
];

const diamond = (w: number, h: number, color: string) => (p: any) => (
  <polygon points={`${p.cx},${p.cy - h} ${p.cx + w},${p.cy} ${p.cx},${p.cy + h} ${p.cx - w},${p.cy}`} fill={color} />
);
const square = (s: number, color: string) => (p: any) => (
  <rect x={p.cx - s / 2} y={p.cy - s / 2} width={s} height={s} fill={color} />
);
const triangle = (w: number, h: number, color: string) => (p: any) => (
  <polygon points={`${p.cx},${p.cy - h / 2} ${p.cx + w / 2},${p.cy + h / 2} ${p.cx - w / 2},${p.cy + h / 2}`} fill={color} />
);

const topXTick = (p: any) => {
  const { x, y, payload } = p;
  if (labelDays.includes(payload.value)) return <line x1={x} x2={x} y1={y - 4} y2={y + 6} stroke="#000" />;
  return <line x1={x} x2={x} y1={y} y2={y - 4} stroke="#000" />;
};

const bottomXTick = (p: any) => {
  const { x, y, payload } = p;
  const i = labelDays.indexOf(payload.value);
  if (i >= 0) {
    return (
      <g>
        <line x1={x} x2={x} y1={y - 5} y2={y + 8} stroke="#000" />
        <text x={x} y={y + 49.5} textAnchor="middle" fontSize={27} fontFamily={FONT} fill="#000">
          {dateLabels[i]}
        </text>
      </g>
    );
  }
  return <line x1={x} x2={x} y1={y} y2={y - 5} stroke="#000" />;
};

const leftTick = (labels: number[]) => (p: any) => {
  const { x, y, payload } = p;
  if (labels.includes(payload.value)) {
    return (
      <g>
        <line x1={x - 6} x2={x} y1={y} y2={y} stroke="#000" />
        <text x={x - 14} y={y} dy="0.35em" textAnchor="end" fontSize={19} fontFamily={FONT} fill="#000">
          {payload.value}
        </text>
      </g>
    );
  }
  return <line x1={x} x2={x + 4} y1={y} y2={y} stroke="#000" />;
};

const rightTick = (p: any) => {
  const { x, y, payload } = p;
  return (
    <g>
      <line x1={x} x2={x + 7} y1={y} y2={y} stroke="#000" />
      <text x={x + 13} y={y} dy="0.35em" textAnchor="start" fontSize={19} fontFamily={FONT} fill="#000">
        {`${payload.value}%`}
      </text>
    </g>
  );
};

const axisTitle = (text: string, dx: number) => (p: any) => {
  const vb = p.viewBox || {};
  const cx = vb.x + dx;
  const cy = vb.y + vb.height / 2 + 1.5;
  return (
    <text x={cx} y={cy} transform={`rotate(-90 ${cx} ${cy})`} textAnchor="middle" dominantBaseline="central"
      fontSize={28} fontWeight="bold" fontFamily={FONT} fill="#000">
      {text}
    </text>
  );
};

const noteLabel = (text: string) => (p: any) => {
  const vb = p.viewBox || {};
  const x = (vb.x ?? 0) + (vb.width ?? 0) / 2;
  const y = (vb.y ?? 0) + (vb.height ?? 0) / 2;
  return (
    <text x={x} y={y} textAnchor="start" fontSize={28} fontWeight="bold" fontFamily={FONT} fill="#000">
      {text}
    </text>
  );
};

const legendItems = [
  { name: 'Inlet 3%', marker: <polygon points="17,10 24,17 17,24 10,17" fill={INLET} /> },
  { name: 'Outlet 3%', marker: <rect x={10.5} y={10.5} width={13} height={13} fill={OUTLET} /> },
  { name: 'Removal', marker: <polygon points="17,10.5 24.5,23.5 9.5,23.5" fill={REMOVAL} /> },
];

function TopLegend() {
  return (
    <div style={{ position: 'relative', width: 169, height: 124, border: '1px solid #000', boxSizing: 'border-box', background: '#fff', fontFamily: FONT, fontSize: 28, color: '#000' }}>
      {legendItems.map((it, i) => (
        <div key={it.name} style={{ position: 'absolute', left: 0, top: 22 + i * 41 - 17 - 1, height: 34, display: 'flex', alignItems: 'center', whiteSpace: 'nowrap' }}>
          <svg width={34} height={34} style={{ display: 'block' }}>{it.marker}</svg>
          <span style={{ lineHeight: '34px' }}>{it.name}</span>
        </div>
      ))}
    </div>
  );
}

function BottomLegend() {
  return (
    <div style={{ position: 'relative', width: 137, height: 42, border: '1px solid #555', boxSizing: 'border-box', background: '#fff', fontFamily: FONT, fontSize: 28, color: '#000' }}>
      <div style={{ position: 'absolute', left: 0, top: 3, height: 34, display: 'flex', alignItems: 'center', whiteSpace: 'nowrap' }}>
        <svg width={34} height={34} style={{ display: 'block' }}>
          <polygon points="17,10 24,17 17,24 10,17" fill={CARBON} />
        </svg>
        <span style={{ lineHeight: '34px' }}>Carbon</span>
      </div>
    </div>
  );
}

export default function App() {
  return (
    <div style={{ position: 'absolute', left: 0, top: 0, width: 1693, height: 880, overflow: 'hidden', background: 'linear-gradient(100deg, #e4def2 0%, #e7d2e6 45%, #e2b6d1 100%)', fontFamily: FONT }}>
      <div style={{ position: 'absolute', left: 11, top: 8, width: 1679, height: 425, background: '#fff' }} />
      <div style={{ position: 'absolute', left: 5, top: 433, width: 1688, height: 447, background: '#fff' }} />

      <div style={{ position: 'absolute', left: 0, top: 0 }}>
        <ScatterChart width={1693} height={380} margin={{ top: 61.5, right: 161, bottom: 2.5, left: 11 }}>
          <CartesianGrid yAxisId="left" horizontal vertical={false} horizontalValues={concGrid} stroke="#000" strokeWidth={1} />
          <XAxis type="number" dataKey="x" domain={[0, 26]} ticks={minorDays} interval={0} tickSize={0} tickMargin={0}
            tick={topXTick} tickLine={false} axisLine={{ stroke: '#000' }} height={20} />
          <YAxis yAxisId="left" type="number" dataKey="y" domain={[0, 20]} ticks={unitTicks} interval={0} tickSize={0} tickMargin={0}
            tick={leftTick(concLabels)} tickLine={false} axisLine={{ stroke: '#000' }} width={100}
            label={axisTitle('Concentration (ug/cm)', 37.6)} />
          <YAxis yAxisId="right" orientation="right" type="number" dataKey="y" domain={[0, 100]} ticks={pctLabels} interval={0}
            tickSize={0} tickMargin={0} tick={rightTick} tickLine={false} axisLine={{ stroke: '#000' }} width={80} />
          <ReferenceLine yAxisId="left" y={20} stroke="#8c8c8c" strokeWidth={2} />
          <Scatter name="Inlet 3%" yAxisId="left" data={inletData} fill={INLET} shape={diamond(6.5, 6.5, INLET)} isAnimationActive={false} />
          <Scatter name="Outlet 3%" yAxisId="left" data={outletData} fill={OUTLET} shape={square(12.5, OUTLET)} isAnimationActive={false} />
          <Scatter name="Removal" yAxisId="right" data={removalData} fill={REMOVAL} shape={triangle(14.5, 12.5, REMOVAL)} isAnimationActive={false} />
          <ReferenceLine yAxisId="left" segment={[{ x: 3.558, y: 20.09 }, { x: 3.539, y: -1.7 }]} stroke="#000" strokeWidth={5} ifOverflow="visible" />
          <Legend layout="vertical" align="center" verticalAlign="middle" content={() => <TopLegend />}
            wrapperStyle={{ left: 1522, top: 53, width: 169, height: 124 }} />
        </ScatterChart>
      </div>

      <div style={{ position: 'absolute', left: 0, top: 380 }}>
        <ScatterChart width={1693} height={500} margin={{ top: 108, right: 231, bottom: 28.6, left: 1.7 }}>
          <CartesianGrid horizontal vertical={false} horizontalValues={carbonGrid} stroke="#000" strokeWidth={1} />
          <XAxis type="number" dataKey="x" domain={[0, 26]} ticks={minorDays} interval={0} tickSize={0} tickMargin={0}
            tick={bottomXTick} tickLine={false} axisLine={{ stroke: '#444' }} height={60} />
          <YAxis type="number" dataKey="y" domain={[0, 20]} ticks={unitTicks} interval={0} tickSize={0} tickMargin={0}
            tick={leftTick(carbonLabels)} tickLine={false} axisLine={{ stroke: '#000' }} width={100}
            label={axisTitle('Carbon Injection (lbs/h)', 27.3)} />
          <ReferenceLine y={20} stroke="#8c8c8c" strokeWidth={2} />
          <ReferenceLine x={26} stroke="#8c8c8c" strokeWidth={2} />
          <ReferenceDot x={0.25} y={16.05} r={0} fill="none" stroke="none" label={{ content: noteLabel('Injection Off') }} />
          <ReferenceDot x={4.745} y={16.05} r={0} fill="none" stroke="none" label={{ content: noteLabel('Injection On') }} />
          <Scatter name="Carbon" data={carbonData} fill={CARBON} shape={diamond(7.5, 7, CARBON)} isAnimationActive={false} />
          <ReferenceLine segment={[{ x: 3.666, y: 27.3 }, { x: 3.642, y: -0.1 }]} stroke="#000" strokeWidth={5} ifOverflow="visible" />
          <Legend layout="vertical" align="center" verticalAlign="middle" content={() => <BottomLegend />}
            wrapperStyle={{ left: 1506, top: 144, width: 137, height: 42 }} />
        </ScatterChart>
      </div>
    </div>
  );
}
